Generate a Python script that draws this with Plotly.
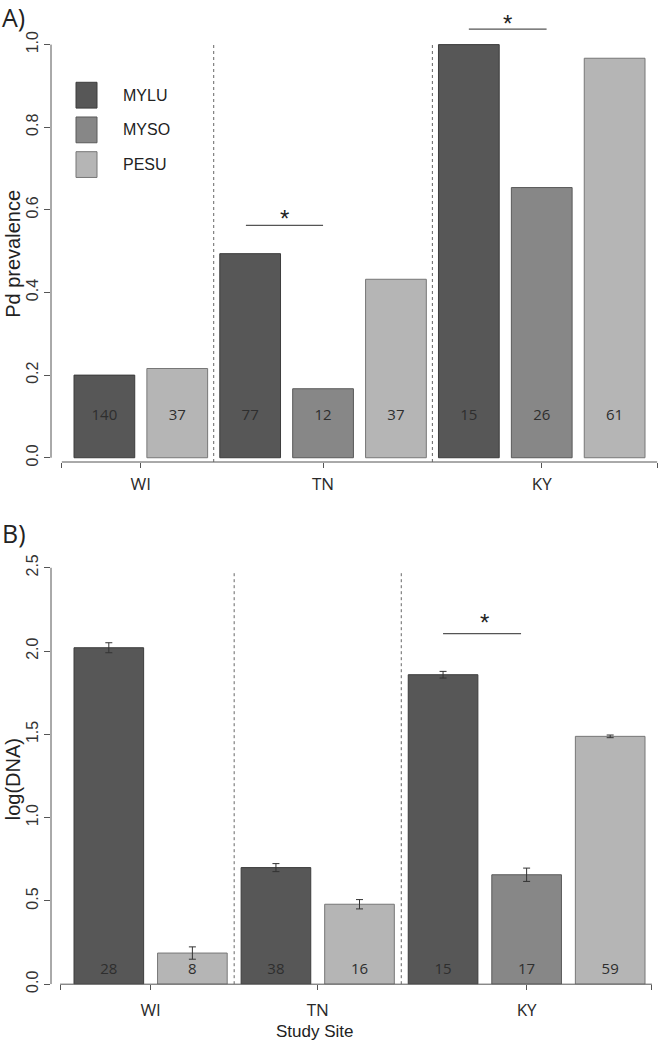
import plotly.graph_objects as go

# ---------------- data ----------------
sites = ["WI", "TN", "KY"]
species = ["MYLU", "MYSO", "PESU"]
colors = ["#575757", "#878787", "#b5b5b5"]
edge_colors = ["#3c3c3c", "#5a5a5a", "#777777"]

# Panel A: Pd prevalence (None = species not sampled at site)
prev_MYLU = [0.200, 0.494, 1.000]
prev_MYSO = [None, 0.167, 0.654]
prev_PESU = [0.216, 0.432, 0.967]
nA_MYLU = [140, 77, 15]
nA_MYSO = [None, 12, 26]
nA_PESU = [37, 37, 61]

# Panel B: log(DNA) with standard errors
dna_MYLU = [2.02, 0.70, 1.858]
dna_MYSO = [None, None, 0.657]
dna_PESU = [0.187, 0.480, 1.488]
se_MYLU = [0.030, 0.024, 0.020]
se_MYSO = [None, None, 0.040]
se_PESU = [0.037, 0.028, 0.008]
nB_MYLU = [28, 38, 15]
nB_MYSO = [None, None, 17]
nB_PESU = [8, 16, 59]

yticksA = [0.0, 0.2, 0.4, 0.6, 0.8, 1.0]
yticksB = [0.0, 0.5, 1.0, 1.5, 2.0, 2.5]

# ---------------- layout helpers ----------------
W, H = 658, 1050
SPACE, BW = 0.2, 1.0


def build(vals_by_species):
    """R-barplot style positions: each bar width 1, gap 0.2, ordered by site then species."""
    out = {sp: {"x": [], "i": []} for sp in species}
    slot = 0
    centers = []
    for si, site in enumerate(sites):
        grp = []
        for sp, vals in zip(species, vals_by_species):
            if vals[si] is not None:
                c = SPACE + BW / 2 + slot * (BW + SPACE)
                out[sp]["x"].append(c)
                out[sp]["i"].append(si)
                grp.append(c)
                slot += 1
        centers.append(sum(grp) / len(grp))
    return out, centers, slot


posA, centersA, nbarsA = build([prev_MYLU, prev_MYSO, prev_PESU])
posB, centersB, nbarsB = build([dna_MYLU, dna_MYSO, dna_PESU])

# pixel geometry of reference
LEFT_PX, BAR0_PX, BARN_PX = 51, 74, 645
unitA = (BARN_PX - BAR0_PX) / (nbarsA * (BW + SPACE) - SPACE)
unitB = (BARN_PX - BAR0_PX) / (nbarsB * (BW + SPACE) - SPACE)
xrA = [SPACE - (BAR0_PX - LEFT_PX) / unitA, SPACE + (W - BAR0_PX) / unitA]
xrB = [SPACE - (BAR0_PX - LEFT_PX) / unitB, SPACE + (W - BAR0_PX) / unitB]

A_zero, A_one = 461.7, 45.0
A_bot, A_top = 466.0, 5.0
upA = (A_zero - A_one)
yrA = [-(A_bot - A_zero) / upA, (A_zero - A_top) / upA]

B_zero, B_unit = 992.7, 168.0
B_bot, B_top = 992.7, 545.0
yrB = [-(B_bot - B_zero) / B_unit, (B_zero - B_top) / B_unit]


def py(px):
    return 1 - px / H


def pxx(px):
    return px / W


fig = go.Figure()

valsA = {"MYLU": prev_MYLU, "MYSO": prev_MYSO, "PESU": prev_PESU}
nA = {"MYLU": nA_MYLU, "MYSO": nA_MYSO, "PESU": nA_PESU}
valsB = {"MYLU": dna_MYLU, "MYSO": dna_MYSO, "PESU": dna_PESU}
seB = {"MYLU": se_MYLU, "MYSO": se_MYSO, "PESU": se_PESU}
nB = {"MYLU": nB_MYLU, "MYSO": nB_MYSO, "PESU": nB_PESU}

num_font = dict(family="Open Sans", size=15, color="#2e2e2e")

for k, sp in enumerate(species):
    xs = posA[sp]["x"]
    ys = [valsA[sp][i] for i in posA[sp]["i"]]
    fig.add_trace(go.Bar(x=xs, y=ys, width=BW, marker=dict(color=colors[k], line=dict(color=edge_colors[k], width=1)),
                         xaxis="x", yaxis="y", showlegend=False, hoverinfo="skip"))
    fig.add_trace(go.Scatter(x=xs, y=[0.1] * len(xs), text=[str(nA[sp][i]) for i in posA[sp]["i"]],
                             mode="text", textfont=num_font, xaxis="x", yaxis="y", showlegend=False, hoverinfo="skip"))

for k, sp in enumerate(species):
    xs = posB[sp]["x"]
    ys = [valsB[sp][i] for i in posB[sp]["i"]]
    es = [seB[sp][i] for i in posB[sp]["i"]]
    fig.add_trace(go.Bar(x=xs, y=ys, width=BW, marker=dict(color=colors[k], line=dict(color=edge_colors[k], width=1)),
                         error_y=dict(type="data", array=es, visible=True, color="#333333", thickness=1, width=3.5),
                         xaxis="x2", yaxis="y2", showlegend=False, hoverinfo="skip"))
    fig.add_trace(go.Scatter(x=xs, y=[0.082] * len(xs), text=[str(nB[sp][i]) for i in posB[sp]["i"]],
                             mode="text", textfont=num_font, xaxis="x2", yaxis="y2", showlegend=False, hoverinfo="skip"))

axis_col = "#555555"
tick_font = dict(family="Liberation Sans", size=16, color="#333333")
cat_font = dict(family="Open Sans", size=17, color="#2a2a2a")

xA_end = nbarsA * (BW + SPACE) + SPACE
xB_end = 8.5

fig.update_layout(
    width=W, height=H, margin=dict(l=0, r=0, t=0, b=0),
    paper_bgcolor="white", plot_bgcolor="white", barmode="overlay",
    xaxis=dict(domain=[pxx(LEFT_PX), 1], range=xrA, showgrid=False, zeroline=False, showline=False,
               tickvals=[0] + centersA + [xA_end], ticktext=[""] + sites + [""],
               ticks="outside", ticklen=5, tickcolor=axis_col, tickfont=cat_font, anchor="y",
               ticklabelstandoff=2),
    yaxis=dict(domain=[py(A_bot), py(A_top)], range=yrA, showgrid=False, zeroline=False, showline=False,
               tickvals=yticksA, ticktext=[f"{v:.1f}" for v in yticksA], tickangle=-90,
               ticks="outside", ticklen=6, tickcolor=axis_col, tickfont=tick_font, anchor="x"),
    xaxis2=dict(domain=[pxx(LEFT_PX), 1], range=xrB, showgrid=False, zeroline=False, showline=False,
                tickvals=[0] + centersB + [xB_end], ticktext=[""] + sites + [""],
                ticks="outside", ticklen=5, tickcolor=axis_col, tickfont=cat_font, anchor="y2",
                ticklabelstandoff=5),
    yaxis2=dict(domain=[py(B_bot), py(B_top)], range=yrB, showgrid=False, zeroline=False, showline=False,
                tickvals=yticksB, ticktext=[f"{v:.1f}" for v in yticksB], tickangle=-90,
                ticks="outside", ticklen=6, tickcolor=axis_col, tickfont=tick_font, anchor="x2"),
)

shapes = []
# y axis lines (span first to last tick)
shapes.append(dict(type="line", xref="paper", yref="y", x0=pxx(LEFT_PX), x1=pxx(LEFT_PX), y0=yticksA[0], y1=yticksA[-1],
                   line=dict(color=axis_col, width=1)))
shapes.append(dict(type="line", xref="paper", yref="y2", x0=pxx(LEFT_PX), x1=pxx(LEFT_PX), y0=yticksB[0], y1=yticksB[-1],
                   line=dict(color=axis_col, width=1)))
# x axis lines
shapes.append(dict(type="line", xref="x", yref="paper", x0=0, x1=xA_end, y0=py(A_bot), y1=py(A_bot),
                   line=dict(color=axis_col, width=1)))
shapes.append(dict(type="line", xref="x2", yref="paper", x0=0, x1=xB_end, y0=py(B_bot), y1=py(B_bot),
                   line=dict(color=axis_col, width=1)))
# dotted site separators
for xv in [2.5, 6.1]:
    shapes.append(dict(type="line", xref="x", yref="y", x0=xv, x1=xv, y0=yrA[0], y1=1.0,
                       line=dict(color="#666666", width=1, dash="dot")))
for xv in [2.5, 4.9]:
    shapes.append(dict(type="line", xref="x2", yref="y2", x0=xv, x1=xv, y0=0, y1=2.48,
                       line=dict(color="#666666", width=1, dash="dot")))
# significance lines
sig_col = "#555555"
shapes.append(dict(type="line", xref="x", yref="y", x0=3.03, x1=4.30, y0=0.5625, y1=0.5625, line=dict(color=sig_col, width=1.2)))
shapes.append(dict(type="line", xref="x", yref="y", x0=6.70, x1=7.98, y0=1.0377, y1=1.0377, line=dict(color=sig_col, width=1.2)))
shapes.append(dict(type="line", xref="x2", yref="y2", x0=5.50, x1=6.62, y0=2.105, y1=2.105, line=dict(color=sig_col, width=1.2)))

# legend boxes
leg_y = [96, 131, 166]
for k, sp in enumerate(species):
    shapes.append(dict(type="rect", xref="paper", yref="paper", x0=pxx(76), x1=pxx(97), y0=py(leg_y[k] + 13), y1=py(leg_y[k] - 13),
                       fillcolor=colors[k], line=dict(color=edge_colors[k], width=1)))
fig.update_layout(shapes=shapes)

ann = []
for k, sp in enumerate(species):
    ann.append(dict(xref="paper", yref="paper", x=pxx(121), y=py(leg_y[k]), text=sp, showarrow=False,
                    xanchor="left", yanchor="middle", font=dict(family="Liberation Sans", size=16, color="#222222")))
# asterisks
star_font = dict(family="Liberation Sans", size=24, color="#222222")
ann.append(dict(xref="x", yref="y", x=3.67, y=0.59, text="*", showarrow=False, font=star_font, yshift=-5))
ann.append(dict(xref="x", yref="y", x=7.34, y=1.064, text="*", showarrow=False, font=star_font, yshift=-5))
ann.append(dict(xref="x2", yref="y2", x=6.09, y=2.2, text="*", showarrow=False, font=star_font, yshift=-5))
# panel labels
ann.append(dict(xref="paper", yref="paper", x=0, y=py(17), text="A)", showarrow=False, xanchor="left", yanchor="middle",
                font=dict(family="Open Sans", size=25, color="#222222")))
ann.append(dict(xref="paper", yref="paper", x=0, y=py(538), text="B)", showarrow=False, xanchor="left", yanchor="middle",
                font=dict(family="Open Sans", size=25, color="#222222")))
# axis titles
title_font = dict(family="Liberation Sans", size=20, color="#222222")
ann.append(dict(xref="paper", yref="paper", x=pxx(13), y=py(256), text="Pd prevalence", showarrow=False, textangle=-90,
                xanchor="center", yanchor="middle", font=title_font))
ann.append(dict(xref="paper", yref="paper", x=pxx(13), y=py(786), text="log(DNA)", showarrow=False, textangle=-90,
                xanchor="center", yanchor="middle", font=title_font))
ann.append(dict(xref="paper", yref="paper", x=pxx(315), y=py(1040), text="Study Site", showarrow=False,
                xanchor="center", yanchor="middle", font=dict(family="Liberation Sans", size=17, color="#222222")))
fig.update_layout(annotations=ann)

fig.write_html("out.html", config={"displayModeBar": False}, post_script="document.body.style.margin='0';")
